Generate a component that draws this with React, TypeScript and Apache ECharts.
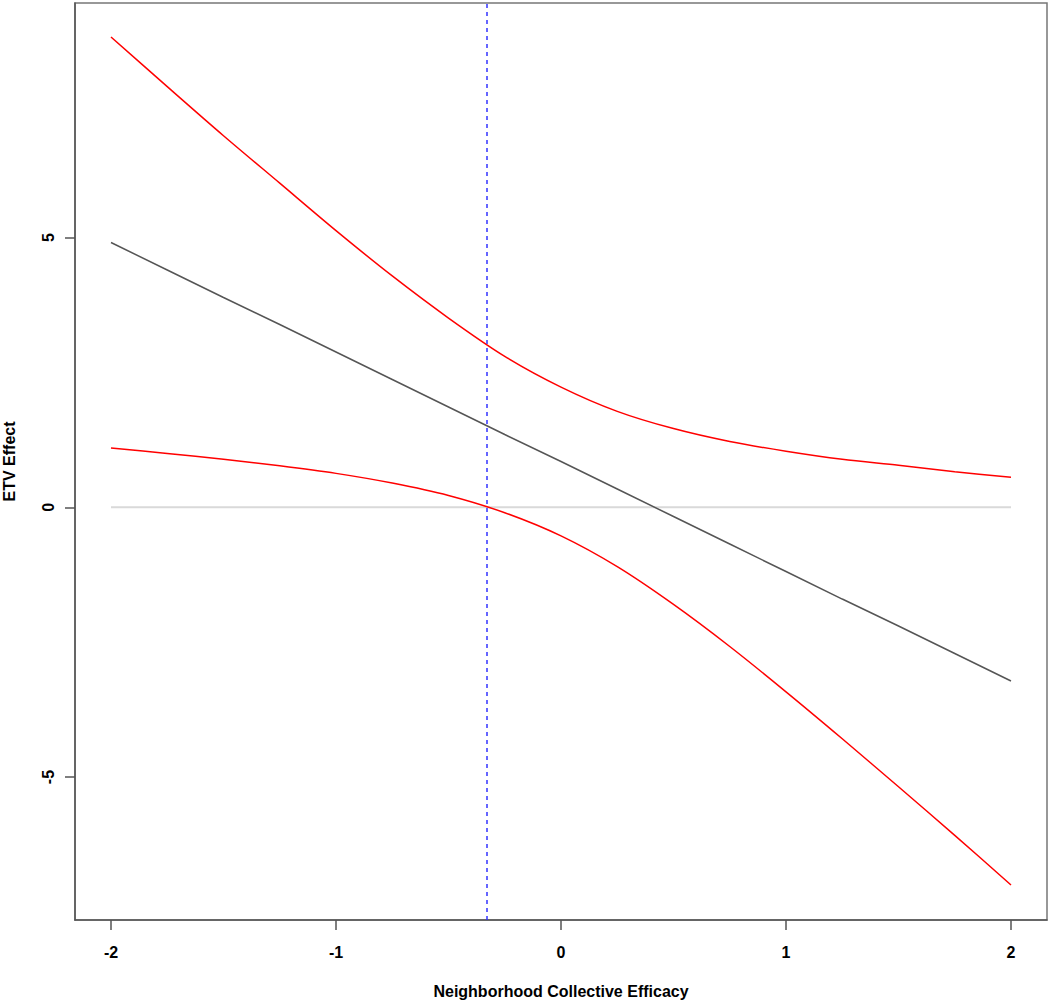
import React, { useEffect, useRef } from "react";
import * as echarts from "echarts";

// x positions of read-off points
const xValues = [-2, -1.75, -1.5, -1.25, -1, -0.75, -0.5, -0.25, 0, 0.25, 0.5, 0.75, 1, 1.25, 1.5, 1.75, 2];
// estimated effect line
const effect = [4.91, 4.40, 3.89, 3.39, 2.88, 2.37, 1.86, 1.35, 0.85, 0.34, -0.17, -0.68, -1.19, -1.70, -2.20, -2.71, -3.22];
// upper confidence band
const upper = [8.72, 7.80, 6.89, 6.01, 5.13, 4.29, 3.51, 2.80, 2.23, 1.78, 1.46, 1.22, 1.04, 0.89, 0.78, 0.66, 0.56];
// lower confidence band
const lower = [1.10, 1.00, 0.89, 0.77, 0.63, 0.45, 0.22, -0.10, -0.53, -1.10, -1.80, -2.58, -3.42, -4.29, -5.18, -6.08, -7.00];
// zero reference line
const zeroLine = [[-2, 0], [2, 0]];
// Johnson-Neyman point
const jnPoint = -0.331;
// tick labels
const xTicks = [-2, -1, 0, 1, 2];
const yTicks = [-5, 0, 5];

const pair = (ys: number[]) => xValues.map((x, i) => [x, ys[i]]);

export default function App() {
  const ref = useRef<HTMLDivElement>(null);
  useEffect(() => {
    if (!ref.current) return;
    const chart = echarts.init(ref.current, undefined, { renderer: "svg" });
    const font = "'Liberation Sans', Arial, Helvetica, sans-serif";
    chart.setOption({
      animation: false,
      backgroundColor: "#ffffff",
      grid: {
        left: 75,
        top: 3,
        right: 3,
        bottom: 83,
        outerBoundsMode: "none",
        containLabel: false,
        show: true,
        borderColor: "#777777",
        borderWidth: 1.5,
        backgroundColor: "transparent",
      },
      xAxis: {
        type: "value",
        min: -2.16,
        max: 2.16,
        name: "Neighborhood Collective Efficacy",
        nameLocation: "middle",
        nameGap: 63,
        nameTextStyle: { fontFamily: font, fontWeight: "bold", fontSize: 16, color: "#000" },
        axisLine: { show: true, onZero: false, lineStyle: { color: "#555", width: 1.5 } },
        axisTick: { show: true, length: 10, customValues: xTicks, lineStyle: { color: "#555", width: 1.5 } },
        axisLabel: { customValues: xTicks, margin: 24, fontFamily: font, fontWeight: "bold", fontSize: 16, color: "#000" },
        splitLine: { show: false },
      },
      yAxis: {
        type: "value",
        min: -7.65,
        max: 9.35,
        name: "ETV Effect",
        nameLocation: "middle",
        nameRotate: 90,
        nameGap: 58,
        nameTextStyle: { fontFamily: font, fontWeight: "bold", fontSize: 16, color: "#000" },
        axisLine: { show: true, onZero: false, lineStyle: { color: "#555", width: 1.5 } },
        axisTick: { show: true, length: 10, customValues: yTicks, lineStyle: { color: "#555", width: 1.5 } },
        axisLabel: { customValues: yTicks, rotate: 90, margin: 19, fontFamily: font, fontWeight: "bold", fontSize: 16, color: "#000" },
        splitLine: { show: false },
      },
      series: [
        {
          type: "line",
          data: zeroLine,
          symbol: "none",
          lineStyle: { color: "#d9d9d9", width: 2 },
          silent: true,
          z: 1,
        },
        {
          type: "line",
          data: pair(effect),
          symbol: "none",
          lineStyle: { color: "#555555", width: 1.5 },
          z: 2,
          markLine: {
            symbol: "none",
            silent: true,
            label: { show: false },
            lineStyle: { color: "#3333ff", type: [4, 4], width: 1.5 },
            data: [{ xAxis: jnPoint }],
          },
        },
        {
          type: "line",
          data: pair(upper),
          symbol: "none",
          smooth: 0.3,
          lineStyle: { color: "#ff0000", width: 1.5 },
          z: 3,
        },
        {
          type: "line",
          data: pair(lower),
          symbol: "none",
          smooth: 0.3,
          lineStyle: { color: "#ff0000", width: 1.5 },
          z: 3,
        },
      ],
    });
    return () => chart.dispose();
  }, []);
  return (
    <div
      ref={ref}
      style={{ position: "fixed", left: 0, top: 0, width: 1050, height: 1003, background: "#fff" }}
    />
  );
}
